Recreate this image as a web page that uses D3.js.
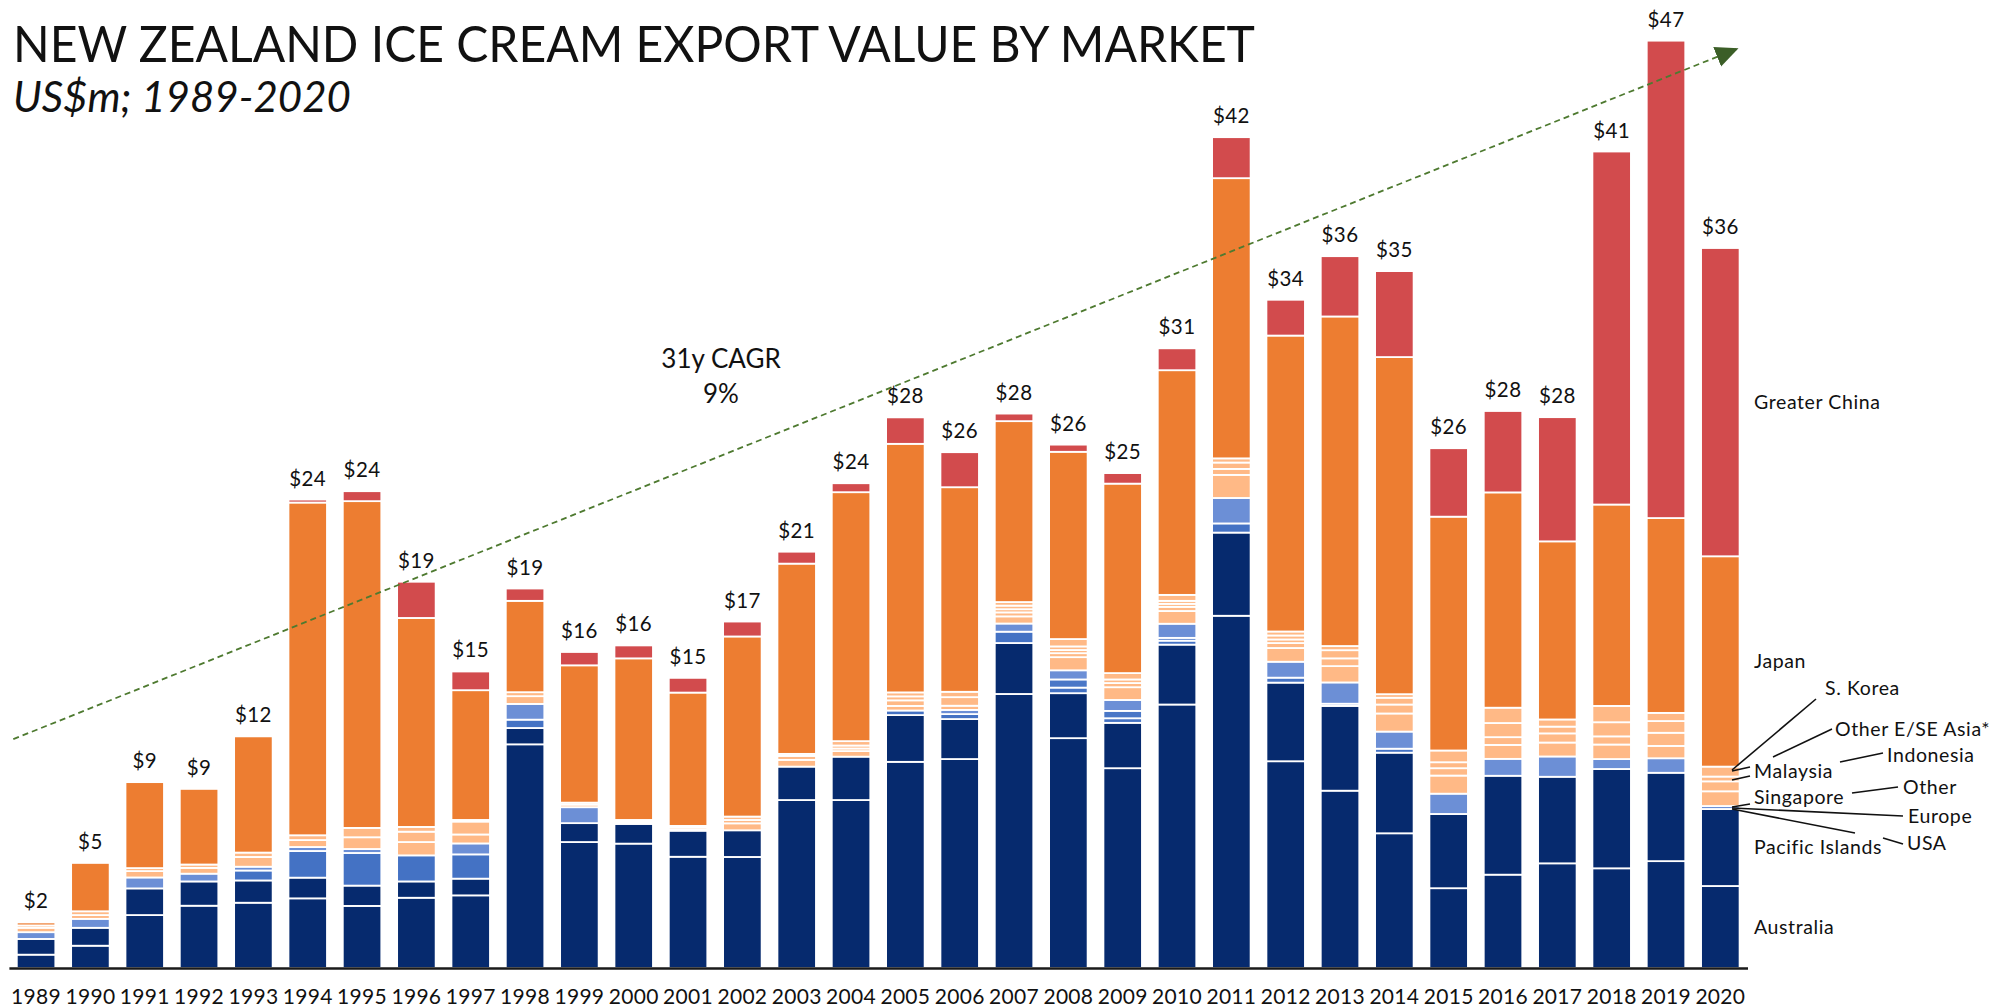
<!DOCTYPE html>
<html>
<head>
<meta charset="utf-8">
<title>New Zealand ice cream export value by market</title>
<script src="https://cdn.jsdelivr.net/npm/d3@7"></script>
<style>
  html, body { margin: 0; padding: 0; background: #fff; }
  svg { display: block; }
  text { font-family: "Lato", "Noto Sans", sans-serif; fill: #111; }
</style>
</head>
<body>
<svg id="chart" width="2009" height="1008"></svg>
<script>
// ---- data: US$m per market, 1989-2020 ----
const years = ["1989","1990","1991","1992","1993","1994","1995","1996","1997","1998","1999","2000","2001","2002","2003","2004",
               "2005","2006","2007","2008","2009","2010","2011","2012","2013","2014","2015","2016","2017","2018","2019","2020"];

const australia      = [0.67,1.12,2.66,3.13,3.28,3.50,3.12,3.53,3.65,11.24,6.33,6.25,5.59,5.58,8.44,8.44,10.36,10.50,13.77,11.55,10.04,13.24,17.70,10.39,8.91,6.77,4.01,4.69,5.26,5.01,5.37,4.12];
const pacificIslands = [0.79,0.90,1.34,1.22,1.12,1.04,1.02,0.82,0.84,0.82,0.95,0.99,1.31,1.34,1.68,2.18,2.35,2.01,2.56,2.26,2.28,3.01,4.18,3.95,4.26,4.05,3.73,4.97,4.35,4.99,4.44,3.87];
const usa            = [0,0,0,0,0.50,1.34,1.64,1.31,1.22,0.42,0,0,0,0,0,0,0.23,0.25,0.57,0.28,0.23,0.20,0.46,0.25,0.11,0.20,0,0,0,0,0,0];
const europe         = [0,0,0,0,0,0,0,0,0,0,0,0,0,0,0,0,0,0,0,0.41,0.37,0.14,0,0,0,0,0,0,0,0,0,0];
const otherMarkets   = [0.34,0.45,0.55,0.39,0.19,0.20,0.20,0,0.55,0.79,0.80,0.08,0.08,0,0,0,0,0.21,0.41,0.46,0.55,0.71,1.28,0.80,1.07,0.86,1.02,0.85,1.02,0.50,0.73,0.15];
const singapore      = [0.22,0.19,0.32,0.29,0.49,0.35,0.59,0.67,0.45,0.39,0.13,0.06,0.10,0.35,0.34,0.28,0.23,0.21,0.36,0.66,0.64,0.64,1.16,0.69,0.82,0.91,0.91,0.70,0.70,0.73,0.62,0.74];
const malaysia       = [0,0,0,0,0,0,0,0.52,0,0,0,0,0,0.17,0,0.13,0.28,0.43,0.20,0.20,0.21,0.21,0.30,0.25,0.39,0.45,0.37,0.39,0.46,0.41,0.66,0.50];
const indonesia      = [0,0,0,0,0,0,0,0,0,0,0,0,0,0,0,0.15,0.20,0,0.16,0.16,0.18,0.15,0.32,0.18,0.41,0.34,0.30,0.71,0.34,0.71,0.59,0.24];
const otherEastAsia  = [0.12,0.19,0.15,0.17,0.22,0.24,0.47,0.24,0.65,0.20,0.10,0.06,0.06,0.17,0.20,0.22,0.20,0.27,0.18,0.18,0.32,0.15,0.21,0.20,0.21,0.18,0.59,0.77,0.36,0.82,0.41,0.50];
const southKorea     = [0,0,0,0,0,0,0,0,0.08,0,0,0,0,0,0.10,0,0,0,0.18,0.37,0,0.30,0,0.20,0,0,0,0,0,0,0,0];
const japan          = [0.15,2.43,4.32,3.80,5.84,16.72,16.42,10.50,6.52,4.59,6.90,8.12,6.70,9.05,9.56,12.51,12.49,10.28,9.09,9.41,9.52,11.29,14.08,14.87,16.56,16.94,11.75,10.82,8.95,10.12,9.79,10.57];
const greaterChina   = [0,0,0,0,0,0.15,0.50,1.82,0.94,0.62,0.67,0.65,0.74,0.75,0.60,0.45,1.33,1.76,0.38,0.36,0.53,1.10,2.06,1.80,3.03,4.32,3.44,4.09,6.24,17.74,23.99,15.49];

// stacking order, bottom to top
const markets = ["Australia","Pacific Islands","USA","Europe","Other","Singapore","Malaysia","Indonesia","Other E/SE Asia*","S. Korea","Japan","Greater China"];
const seriesValues = [australia,pacificIslands,usa,europe,otherMarkets,singapore,malaysia,indonesia,otherEastAsia,southKorea,japan,greaterChina];

// trend arrow drawn from / to these US$m levels
const trendFrom = 11.5;
const trendTo = 46.2;

// ---- styles ----
const colour = {
  "Australia": "#062A6E",
  "Pacific Islands": "#062A6E",
  "USA": "#4472C4",
  "Europe": "#4A77C7",
  "Other": "#6C8FD6",
  "Singapore": "#FFB986",
  "Malaysia": "#FFB986",
  "Indonesia": "#FFB986",
  "Other E/SE Asia*": "#FFB986",
  "S. Korea": "#FFB986",
  "Japan": "#ED7D31",
  "Greater China": "#D24B4D"
};

const rows = years.map((yr, i) => {
  const r = { year: yr };
  markets.forEach((m, k) => { r[m] = seriesValues[k][i]; });
  return r;
});
const totals = rows.map(r => d3.sum(markets, m => r[m]));

const svg = d3.select("#chart");
const baseY = 968;

const x = d3.scaleBand().domain(years).range([8.9, 1747.5]).paddingInner(0.291).paddingOuter(0.1455);
const y = d3.scaleLinear().domain([0, 47]).range([baseY, baseY - 47 * 19.9]);

const stacked = d3.stack().keys(markets)(rows);

// ---- bars ----
const layers = svg.append("g").selectAll("g")
  .data(stacked).join("g")
  .attr("fill", d => colour[d.key]);

layers.selectAll("rect")
  .data(d => d)
  .join("rect")
  .attr("x", d => x(d.data.year))
  .attr("width", x.bandwidth())
  .attr("y", d => y(d[1]))
  .attr("height", d => Math.max(0, y(d[0]) - y(d[1])))
  .attr("stroke", "#fff")
  .attr("stroke-width", 1.8);

// ---- total labels ----
svg.append("g").selectAll("text")
  .data(rows).join("text")
  .attr("x", d => x(d.year) + x.bandwidth() / 2)
  .attr("y", (d, i) => y(totals[i]) - 14)
  .attr("text-anchor", "middle")
  .style("font-size", "20.5px")
  .style("letter-spacing", "0.4px")
  .text((d, i) => "$" + Math.round(totals[i]));

// ---- x axis ----
const axis = svg.append("g")
  .attr("transform", `translate(0,${baseY})`)
  .call(d3.axisBottom(x).tickSize(0).tickSizeOuter(0).tickPadding(21));
axis.select(".domain").attr("stroke", "#1a1a1a").attr("stroke-width", 2.6);
axis.selectAll(".tick text")
  .style("font-family", "Lato, 'Noto Sans', sans-serif")
  .style("font-size", "21px")
  .style("letter-spacing", "0.3px")
  .attr("fill", "#111");

// ---- trend arrow ----
const defs = svg.append("defs");
defs.append("marker")
  .attr("id", "trendHead")
  .attr("markerUnits", "userSpaceOnUse")
  .attr("viewBox", "0 -12 24 24")
  .attr("refX", 22).attr("refY", 0)
  .attr("markerWidth", 24).attr("markerHeight", 24)
  .attr("orient", "auto")
  .append("path")
  .attr("d", "M0,-10.5L23,0L0,10.5Z")
  .attr("fill", "#3B5E27");

const firstYear = years[0], lastYear = years[years.length - 1];
svg.append("line")
  .attr("x1", x(firstYear) - 3.5)
  .attr("y1", y(trendFrom))
  .attr("x2", x(lastYear) + x.bandwidth() - 2)
  .attr("y2", y(trendTo))
  .attr("stroke", "#4E7A30")
  .attr("stroke-width", 1.8)
  .attr("stroke-dasharray", "6,4")
  .attr("marker-end", "url(#trendHead)");

// CAGR over the full span
const span = years.length - 1;
const cagr = Math.pow(totals[totals.length - 1] / totals[0], 1 / span) - 1;
const cagrLabel = svg.append("text")
  .attr("x", 721).attr("y", 368)
  .attr("text-anchor", "middle")
  .style("font-size", "26px");
cagrLabel.append("tspan").attr("x", 721).text(`${span}y CAGR`);
cagrLabel.append("tspan").attr("x", 721).attr("y", 403).text(d3.format(".0%")(cagr));

// ---- titles ----
function fitWidth(sel, target) {
  const w = sel.node().getComputedTextLength();
  if (w > target) sel.attr("textLength", target).attr("lengthAdjust", "spacingAndGlyphs");
}
const title = svg.append("text")
  .attr("x", 13).attr("y", 62)
  .style("font-size", "50px")
  .text("NEW ZEALAND ICE CREAM EXPORT VALUE BY MARKET");
fitWidth(title, 1242);

const subtitle = svg.append("text")
  .attr("x", 13).attr("y", 112)
  .style("font-size", "42px")
  .style("font-style", "italic")
  .text("US$m; 1989-2020");
fitWidth(subtitle, 340);

// ---- market labels at the right ----
const last = years.length - 1;
const labelX = 1754;
const midOf = key => {
  const s = stacked.find(l => l.key === key)[last];
  return y((s[0] + s[1]) / 2);
};
const legend = svg.append("g").style("font-size", "19.5px").style("letter-spacing", "0.6px");

["Australia", "Pacific Islands", "Japan", "Greater China"].forEach(key => {
  legend.append("text")
    .attr("x", labelX)
    .attr("y", midOf(key))
    .attr("dy", "0.35em")
    .text(key);
});

// labels for the thin layers, with leader lines
const calloutLayout = [
  { key: "S. Korea",          tx: 1825, ty: 695, lines: [[1732, 770, 1816, 699]] },
  { key: "Other E/SE Asia*",  tx: 1835, ty: 736, lines: [[1773, 757, 1832, 729]] },
  { key: "Indonesia",         tx: 1887, ty: 762, lines: [[1840, 762, 1883, 753]] },
  { key: "Malaysia",          tx: labelX, ty: 778, lines: [[1732, 771, 1750, 767], [1732, 780, 1750, 776]] },
  { key: "Other",             tx: 1903, ty: 794, lines: [[1852, 793, 1898, 787]] },
  { key: "Singapore",         tx: labelX, ty: 804, lines: [[1732, 807, 1750, 804]] },
  { key: "Europe",            tx: 1908, ty: 823, lines: [[1732, 808, 1903, 816]] },
  { key: "USA",               tx: 1907, ty: 850, lines: [[1732, 809, 1855, 833], [1883, 838, 1903, 844]] }
];

calloutLayout.forEach(c => {
  c.lines.forEach(l => {
    legend.append("line")
      .attr("x1", l[0]).attr("y1", l[1]).attr("x2", l[2]).attr("y2", l[3])
      .attr("stroke", "#111").attr("stroke-width", 1.6);
  });
  legend.append("text").attr("x", c.tx).attr("y", c.ty).text(c.key);
});
</script>
</body>
</html>
